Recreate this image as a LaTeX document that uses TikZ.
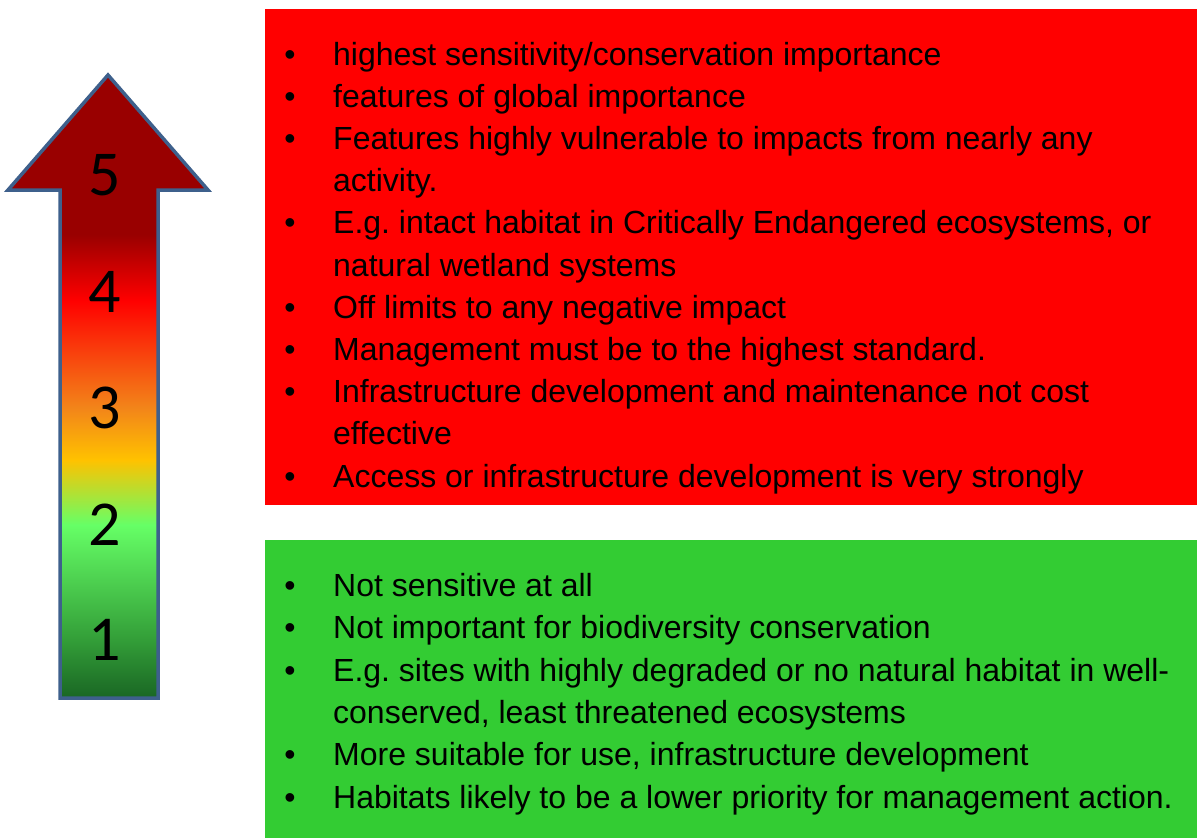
\documentclass[tikz,border=0pt]{standalone}
\usepackage{fontspec}
\setmainfont{Liberation Sans}
\newfontfamily\numfont{Carlito}
\frenchspacing
\definecolor{boxred}{RGB}{255,0,0}
\definecolor{boxgreen}{RGB}{51,204,51}
\definecolor{arrowblue}{RGB}{62,96,140}
\pgfdeclareverticalshading{levels}{100bp}{rgb(0bp)=(0.1,0.4,0.14); rgb(25bp)=(0.1,0.4,0.14); rgb(29.7bp)=(0.2,0.62,0.22); rgb(38.9bp)=(0.4,1,0.4); rgb(44.1bp)=(1,0.76,0); rgb(48.3bp)=(0.95,0.52,0.1); rgb(56.9bp)=(1,0,0); rgb(62.2bp)=(0.6,0,0); rgb(100bp)=(0.6,0,0)}
\tikzset{
  textline/.style={anchor=base west, inner sep=0pt, font=\fontsize{32}{38}\selectfont},
  dot/.style={anchor=base, inner sep=0pt, font=\fontsize{32}{38}\selectfont},
  level/.style={inner sep=0pt, font=\numfont\fontsize{64}{66}\selectfont}
}
\begin{document}
\begin{tikzpicture}[x=1pt,y=-1pt]
  \useasboundingbox (0,0) rectangle (1197,838);
  % boxes
  \node[fill=boxred, minimum width=932pt, minimum height=496pt, inner sep=0pt, anchor=north west] (high) at (265,9) {};
  \node[fill=boxgreen, minimum width=932pt, minimum height=298pt, inner sep=0pt, anchor=north west] (low) at (265,540) {};
  % arrow
  \shade[shading=levels, draw=arrowblue, line width=3.5pt, line join=miter]
    (108,75) -- (208,190) -- (158,190) -- (158,698) -- (60,698) -- (60,190) -- (8,190) -- cycle;
  \node[level] (l5) at (105,175) {5};
  \node[level] (l4) at (105,292) {4};
  \node[level] (l3) at (105,408) {3};
  \node[level] (l2) at (105,525) {2};
  \node[level] (l1) at (105,640) {1};
  % red list
  \node[dot] (hb1) at (290,65) {\textbullet};
  \node[textline] (h1) at (333,65) {highest sensitivity/conservation importance};
  \node[dot] (hb2) at (290,107.2) {\textbullet};
  \node[textline] (h2) at (333,107.2) {features of global importance};
  \node[dot] (hb3) at (290,149.4) {\textbullet};
  \node[textline] (h3) at (333,149.4) {Features highly vulnerable to impacts from nearly any};
  \node[textline] (h4) at (333,191.6) {activity.};
  \node[dot] (hb5) at (290,233.8) {\textbullet};
  \node[textline] (h5) at (333,233.8) {E.g. intact habitat in Critically Endangered ecosystems, or};
  \node[textline] (h6) at (333,276) {natural wetland systems};
  \node[dot] (hb7) at (290,318.2) {\textbullet};
  \node[textline] (h7) at (333,318.2) {Off limits to any negative impact};
  \node[dot] (hb8) at (290,360.4) {\textbullet};
  \node[textline] (h8) at (333,360.4) {Management must be to the highest standard.};
  \node[dot] (hb9) at (290,402.6) {\textbullet};
  \node[textline] (h9) at (333,402.6) {Infrastructure development and maintenance not cost};
  \node[textline] (h10) at (333,444.8) {effective};
  \node[dot] (hb11) at (290,487) {\textbullet};
  \node[textline] (h11) at (333,487) {Access or infrastructure development is very strongly};
  % green list
  \node[dot] (gb1) at (290,596.5) {\textbullet};
  \node[textline] (g1) at (333,596.5) {Not sensitive at all};
  \node[dot] (gb2) at (290,638.8) {\textbullet};
  \node[textline] (g2) at (333,638.8) {Not important for biodiversity conservation};
  \node[dot] (gb3) at (290,681.1) {\textbullet};
  \node[textline] (g3) at (333,681.1) {E.g. sites with highly degraded or no natural habitat in well-};
  \node[textline] (g4) at (333,723.4) {conserved, least threatened ecosystems};
  \node[dot] (gb5) at (290,765.7) {\textbullet};
  \node[textline] (g5) at (333,765.7) {More suitable for use, infrastructure development};
  \node[dot] (gb6) at (290,808) {\textbullet};
  \node[textline] (g6) at (333,808) {Habitats likely to be a lower priority for management action.};
\end{tikzpicture}
\end{document}
